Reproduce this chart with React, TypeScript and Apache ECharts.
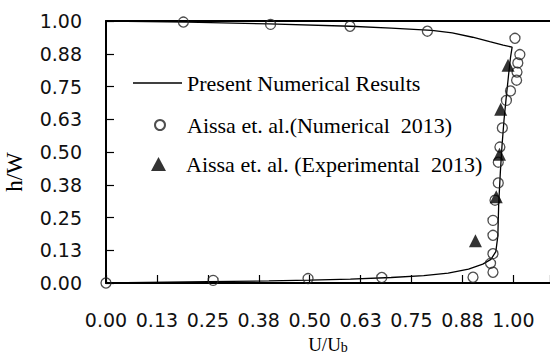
import { useEffect, useRef } from 'react';
import * as echarts from 'echarts';

// Present numerical velocity profile (U/Ub vs h/W), traced along the wall-to-wall path
const presentU = [0, 0.1, 0.25, 0.4, 0.5, 0.6, 0.7, 0.78, 0.84, 0.89, 0.925, 0.945, 0.957, 0.962, 0.964, 0.968, 0.972, 0.977, 0.982, 0.988, 0.993, 0.997, 0.975, 0.942, 0.9, 0.85, 0.8, 0.7, 0.6, 0.4, 0.2, 0];
const presentH = [0, 0.002, 0.005, 0.008, 0.011, 0.015, 0.021, 0.028, 0.038, 0.053, 0.072, 0.09, 0.12, 0.18, 0.3, 0.42, 0.52, 0.62, 0.7, 0.79, 0.86, 0.9, 0.908, 0.921, 0.938, 0.955, 0.964, 0.973, 0.98, 0.989, 0.996, 1];

// Aissa et al. numerical results (2013)
const numericalU = [0.19, 0.404, 0.599, 0.789, 1.004, 1.016, 1.011, 1.009, 1.008, 0.993, 0.983, 0.973, 0.967, 0.963, 0.963, 0.955, 0.95, 0.95, 0.95, 0.944, 0.95, 0, 0.263, 0.496, 0.677, 0.901];
const numericalH = [0.996, 0.987, 0.98, 0.961, 0.934, 0.872, 0.84, 0.805, 0.774, 0.733, 0.697, 0.592, 0.519, 0.461, 0.382, 0.316, 0.239, 0.182, 0.112, 0.075, 0.041, 0, 0.01, 0.017, 0.021, 0.022];

// Aissa et al. experimental results (2013)
const experimentalU = [0.987, 0.969, 0.966, 0.958, 0.907];
const experimentalH = [0.831, 0.663, 0.491, 0.329, 0.161];

const seriesNames = [
  'Present Numerical Results',
  'Aissa et. al.(Numerical  2013)',
  'Aissa et. al. (Experimental  2013)',
];

const X_MAX = 1.09;
const TICK_STEP = 0.125;

const zip = (xs: number[], ys: number[]) => xs.map((x, i) => [x, ys[i]]);

const serif = 'Liberation Serif, Times New Roman, serif';
const sans = 'DejaVu Sans, Verdana, sans-serif';

export default function App() {
  const ref = useRef<HTMLDivElement>(null);

  useEffect(() => {
    const chart = echarts.init(ref.current!, null, { renderer: 'svg' });
    const legendText = (padLeft: number) => ({
      fontFamily: serif, fontSize: 22, color: '#000', padding: [0, 0, 0, padLeft],
    });
    chart.setOption({
      animation: false,
      backgroundColor: '#fff',
      grid: { left: 106, right: 0, top: 21, bottom: 73, containLabel: false, outerBoundsMode: 'none' },
      legend: [
        {
          data: [{ name: seriesNames[0], icon: 'rect' }], left: 133, top: 72, padding: 0,
          itemWidth: 49, itemHeight: 1.5, textStyle: legendText(0), selectedMode: false,
        },
        {
          data: [{ name: seriesNames[1], icon: 'circle' }], left: 154, top: 114, padding: 0,
          itemWidth: 10, itemHeight: 10, textStyle: legendText(17), selectedMode: false,
        },
        {
          data: [{ name: seriesNames[2], icon: 'triangle' }], left: 151, top: 153, padding: 0,
          itemWidth: 15, itemHeight: 14, textStyle: legendText(15), selectedMode: false,
        },
      ],
      xAxis: [
        {
          type: 'value', min: 0, max: X_MAX, interval: TICK_STEP,
          name: 'U/U{sub|b}', nameLocation: 'middle', nameGap: 52,
          nameTextStyle: {
            fontFamily: serif, fontSize: 19, color: '#000',
            rich: { sub: { fontFamily: serif, fontSize: 14, color: '#000', verticalAlign: 'bottom', padding: [4, 0, 0, 0] } },
          },
          axisLine: { show: true, lineStyle: { color: '#000', width: 2 } },
          axisTick: { show: true, inside: true, length: 8, lineStyle: { color: '#000', width: 1.2 } },
          axisLabel: {
            margin: 27, fontFamily: sans, fontSize: 19, color: '#111',
            formatter: (v: number) => (v > 1.0001 ? '' : v.toFixed(2)),
          },
          splitLine: { show: false },
        },
        {
          type: 'value', position: 'top', min: 0, max: X_MAX,
          axisLine: { show: true, lineStyle: { color: '#000', width: 2 } },
          axisTick: { show: false }, axisLabel: { show: false }, splitLine: { show: false },
        },
      ],
      yAxis: {
        type: 'value', min: 0, max: 1, interval: TICK_STEP,
        name: 'h/W', nameLocation: 'middle', nameGap: 80, nameRotate: 90,
        nameTextStyle: { fontFamily: serif, fontSize: 23, color: '#000', padding: [0, 40, 0, 0] },
        axisLine: { show: true, lineStyle: { color: '#000', width: 2 } },
        axisTick: { show: true, inside: true, length: 8, lineStyle: { color: '#000', width: 1.2 } },
        axisLabel: {
          margin: 24, fontFamily: sans, fontSize: 19, color: '#111',
          formatter: (v: number) => v.toFixed(2),
        },
        splitLine: { show: false },
      },
      series: [
        {
          name: seriesNames[0], type: 'line', data: zip(presentU, presentH),
          symbol: 'none', showSymbol: false, color: '#000',
          lineStyle: { color: '#000', width: 1.3 }, z: 3,
        },
        {
          name: seriesNames[1], type: 'scatter', data: zip(numericalU, numericalH),
          symbol: 'circle', symbolSize: 10,
          itemStyle: { color: 'rgba(255,255,255,0)', borderColor: '#222', borderWidth: 1.3 }, z: 4,
        },
        {
          name: seriesNames[2], type: 'scatter', data: zip(experimentalU, experimentalH),
          symbol: 'triangle', symbolSize: 13,
          itemStyle: { color: '#000' }, z: 5,
        },
      ],
    });
    return () => chart.dispose();
  }, []);

  return (
    <div
      ref={ref}
      style={{ position: 'absolute', left: 0, top: 0, width: 550, height: 356 }}
    />
  );
}
